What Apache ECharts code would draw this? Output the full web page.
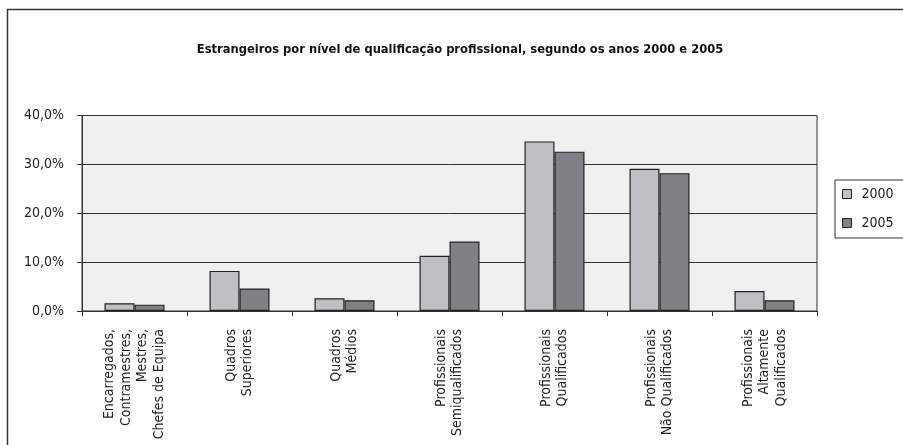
<!DOCTYPE html>
<html><head><meta charset="utf-8">
<script src="https://cdn.jsdelivr.net/npm/echarts@6/dist/echarts.min.js"></script>
<style>html,body{margin:0;padding:0;background:#fff}#c{width:903px;height:445px}</style>
</head><body><div id="c"></div>
<script>
const categories = [
  'Encarregados,\nContramestres,\nMestres,\nChefes de Equipa',
  'Quadros\nSuperiores',
  'Quadros\nMédios',
  'Profissionais\nSemiqualificados',
  'Profissionais\nQualificados',
  'Profissionais\nNão Qualificados',
  'Profissionais\nAltamente\nQualificados'
];
const values2000 = [1.6, 8.2, 2.6, 11.3, 34.7, 29.1, 4.1];
const values2005 = [1.3, 4.6, 2.2, 14.2, 32.6, 28.2, 2.2];
const seriesNames = ['2000', '2005'];
const titleText = 'Estrangeiros por nível de qualificação profissional, segundo os anos 2000 e 2005';

const FONT = "'Liberation Sans Narrow', 'Arial Narrow', 'DejaVu Sans Condensed', sans-serif";
const chart = echarts.init(document.getElementById('c'), null, {renderer: 'canvas'});
chart.setOption({
  animation: false,
  backgroundColor: '#fff',
  textStyle: {fontFamily: FONT, color: '#222'},
  title: {
    text: titleText, left: 455, textAlign: 'center', top: 38,
    textStyle: {fontFamily: FONT, fontWeight: 'bold', fontSize: 12.8, color: '#111'}
  },
  graphic: [{
    type: 'rect', shape: {x: 7.5, y: 9.5, width: 920, height: 460},
    style: {fill: null, stroke: '#333', lineWidth: 1.5}, silent: true, z: -1
  }],
  legend: {
    orient: 'vertical', left: 835, top: 180,
    data: seriesNames, icon: 'rect',
    itemWidth: 9, itemHeight: 9, itemGap: 15,
    padding: [7, 16, 8, 7],
    borderColor: '#333', borderWidth: 1,
    textStyle: {fontFamily: FONT, fontSize: 14, color: '#222', padding: [0, 0, 0, 5]},
    itemStyle: {borderColor: '#222', borderWidth: 1}
  },
  grid: {
    left: 82, right: 86, top: 115.5, bottom: 134,
    show: true, backgroundColor: '#f0f0f0', borderColor: '#333', borderWidth: 1
  },
  xAxis: {
    type: 'category', data: categories,
    axisLine: {lineStyle: {color: '#333', width: 1}},
    axisTick: {show: true, length: 5, lineStyle: {color: '#333'}},
    axisLabel: {
      interval: 0, rotate: 90, margin: 18,
      fontFamily: FONT, fontSize: 14, lineHeight: 16.5, color: '#222', align: 'right'
    }
  },
  yAxis: {
    type: 'value', min: 0, max: 40, interval: 10,
    axisLine: {show: true, lineStyle: {color: '#333', width: 1}},
    axisTick: {show: true, length: 5, lineStyle: {color: '#333'}},
    splitLine: {lineStyle: {color: '#333', width: 1}},
    axisLabel: {
      fontFamily: FONT, fontSize: 14, color: '#222', margin: 18,
      formatter: v => v.toFixed(1).replace('.', ',') + '%'
    }
  },
  series: [
    {name: seriesNames[0], type: 'bar', data: values2000, barWidth: 30, barGap: '0%',
     itemStyle: {color: '#bfc0c4', borderColor: '#222', borderWidth: 1.2}},
    {name: seriesNames[1], type: 'bar', data: values2005, barWidth: 30, barGap: '0%',
     itemStyle: {color: '#808185', borderColor: '#222', borderWidth: 1.2}}
  ]
});
</script></body></html>
